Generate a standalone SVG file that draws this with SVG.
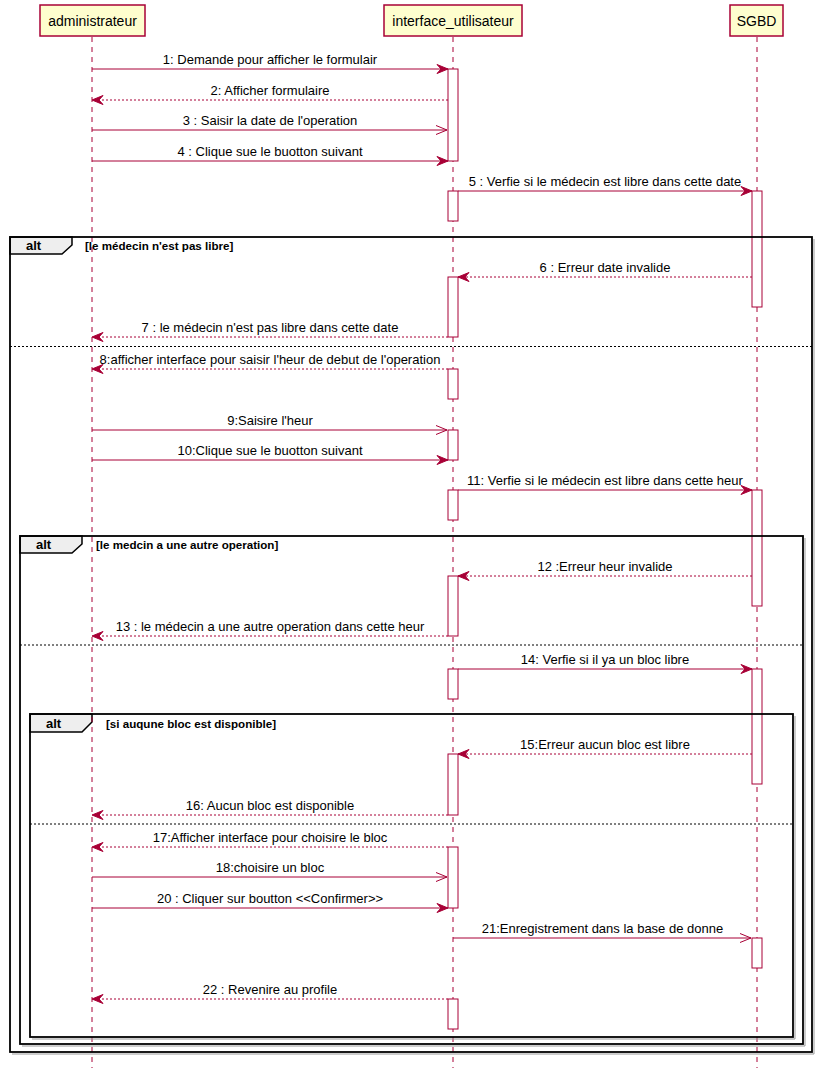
<svg xmlns="http://www.w3.org/2000/svg" width="819" height="1074" viewBox="0 0 819 1074">
<defs>
<style>
.pbox{fill:#FEFECE;stroke:#A80036;stroke-width:1.5}
.pname{font-family:"Liberation Sans",Arial,sans-serif;font-size:14px;fill:#000;text-anchor:middle}
.life{stroke:#A80036;stroke-width:1;stroke-dasharray:5,5}
.act{fill:#fff;stroke:#A80036;stroke-width:1}
.msg{stroke:#A80036;stroke-width:1;fill:none}
.ret{stroke:#A80036;stroke-width:1;fill:none;stroke-dasharray:2,2}
.full{marker-end:url(#filled)}
.open{marker-end:url(#openh)}
.lbl{font-family:"Liberation Sans",Arial,sans-serif;font-size:13px;fill:#000;text-anchor:middle}
.frame{fill:none;stroke:#000;stroke-width:1.8}
.fshadow{fill:none;stroke:#999;stroke-width:1}
.tab{fill:#EEEEEE;stroke:#000;stroke-width:1.5}
.alt{font-family:"Liberation Sans",Arial,sans-serif;font-size:13px;font-weight:bold;fill:#000}
.guard{font-family:"Liberation Sans",Arial,sans-serif;font-size:11.6px;font-weight:bold;fill:#000}
.sep{stroke:#000;stroke-width:1;stroke-dasharray:2,2}
</style>
<marker id="filled" markerUnits="userSpaceOnUse" viewBox="-11 -5 12 10" refX="0" refY="0" markerWidth="12" markerHeight="10" orient="auto" overflow="visible">
<path d="M0,0 L-11,-4.5 L-7,0 L-11,4.5 Z" fill="#A80036" stroke="#A80036" stroke-width="1"/>
</marker>
<marker id="openh" markerUnits="userSpaceOnUse" viewBox="-11 -5 12 10" refX="0" refY="0" markerWidth="12" markerHeight="10" orient="auto" overflow="visible">
<path d="M-11,-4.5 L0,0 L-11,4.5" fill="none" stroke="#A80036" stroke-width="1"/>
</marker>
</defs>
<rect width="819" height="1074" fill="#fff"/>

<g id="frames-bg">
<path class="tab" d="M10,237 H72 V245 L62,254 H10 Z"/>
<text class="alt" x="26" y="250">alt</text>
<text class="guard" x="85" y="250">[le médecin n'est pas libre]</text>
<path class="tab" d="M20,536 H82 V544 L72,553 H20 Z"/>
<text class="alt" x="36" y="549">alt</text>
<text class="guard" x="96" y="549">[le medcin a une autre operation]</text>
<path class="tab" d="M30,714 H92 V722 L82,732 H30 Z"/>
<text class="alt" x="46" y="728">alt</text>
<text class="guard" x="106" y="728">[si auqune bloc est disponible]</text>
</g>

<g id="administrateur">
<line class="life" x1="92" y1="37" x2="92" y2="1068"/>
<rect class="pbox" x="40" y="5" width="105" height="31"/>
<text class="pname" x="92.5" y="25.5">administrateur</text>
</g>

<g id="interface_utilisateur">
<line class="life" x1="453" y1="37" x2="453" y2="1068"/>
<rect class="pbox" x="384" y="5" width="138" height="31"/>
<text class="pname" x="453" y="25.5">interface_utilisateur</text>
<rect class="act" x="448" y="69" width="10" height="92"/>
<rect class="act" x="448" y="191" width="10" height="30"/>
<rect class="act" x="448" y="277" width="10" height="60"/>
<rect class="act" x="448" y="369" width="10" height="30"/>
<rect class="act" x="448" y="430" width="10" height="30"/>
<rect class="act" x="448" y="490" width="10" height="30"/>
<rect class="act" x="448" y="576" width="10" height="60"/>
<rect class="act" x="448" y="669" width="10" height="30"/>
<rect class="act" x="448" y="754" width="10" height="61"/>
<rect class="act" x="448" y="847" width="10" height="61"/>
<rect class="act" x="448" y="999" width="10" height="30"/>
</g>

<g id="SGBD">
<line class="life" x1="757" y1="37" x2="757" y2="1068"/>
<rect class="pbox" x="730" y="5" width="53" height="31"/>
<text class="pname" x="756.5" y="25.5">SGBD</text>
<rect class="act" x="752" y="191" width="10" height="116"/>
<rect class="act" x="752" y="490" width="10" height="116"/>
<rect class="act" x="752" y="669" width="10" height="115"/>
<rect class="act" x="752" y="938" width="10" height="30"/>
</g>

<g id="frames">
<path class="fshadow" d="M814,239 V1054 H12"/>
<rect class="frame" x="10" y="237" width="802" height="815"/>
<line class="sep" x1="10" y1="346.5" x2="812" y2="346.5"/>
<path class="fshadow" d="M805,538 V1046 H22"/>
<rect class="frame" x="20" y="536" width="783" height="508"/>
<line class="sep" x1="20" y1="645" x2="803" y2="645"/>
<path class="fshadow" d="M795,716 V1039 H32"/>
<rect class="frame" x="30" y="714" width="763" height="323"/>
<line class="sep" x1="30" y1="824" x2="793" y2="824"/>
</g>

<g id="connectors">
<line class="msg full" x1="92" y1="69" x2="448" y2="69"/>
<text class="lbl" x="270" y="64">1: Demande pour afficher le formulair</text>
<line class="ret full" x1="448" y1="100" x2="92" y2="100"/>
<text class="lbl" x="270" y="95">2: Afficher formulaire</text>
<line class="msg open" x1="92" y1="130" x2="447" y2="130"/>
<text class="lbl" x="270" y="125">3 : Saisir la date de l'operation</text>
<line class="msg full" x1="92" y1="161" x2="448" y2="161"/>
<text class="lbl" x="270" y="156">4 : Clique sue le buotton suivant</text>
<line class="msg full" x1="458" y1="191" x2="752" y2="191"/>
<text class="lbl" x="605" y="186">5 : Verfie si le médecin est libre dans cette date</text>
<line class="ret full" x1="752" y1="277" x2="458" y2="277"/>
<text class="lbl" x="605" y="272">6 : Erreur date invalide</text>
<line class="ret full" x1="448" y1="337" x2="92" y2="337"/>
<text class="lbl" x="270" y="332">7 : le médecin n'est pas libre dans cette date</text>
<line class="ret full" x1="448" y1="369" x2="92" y2="369"/>
<text class="lbl" x="270" y="364">8:afficher interface pour saisir l'heur de debut de l'operation</text>
<line class="msg open" x1="92" y1="430" x2="447" y2="430"/>
<text class="lbl" x="270" y="425">9:Saisire l'heur</text>
<line class="msg full" x1="92" y1="460" x2="448" y2="460"/>
<text class="lbl" x="270" y="455">10:Clique sue le buotton suivant</text>
<line class="msg full" x1="458" y1="490" x2="752" y2="490"/>
<text class="lbl" x="605" y="485">11: Verfie si le médecin est libre dans cette heur</text>
<line class="ret full" x1="752" y1="576" x2="458" y2="576"/>
<text class="lbl" x="605" y="571">12 :Erreur heur invalide</text>
<line class="ret full" x1="448" y1="636" x2="92" y2="636"/>
<text class="lbl" x="270" y="631">13 : le médecin a une autre operation dans cette heur</text>
<line class="msg full" x1="458" y1="669" x2="752" y2="669"/>
<text class="lbl" x="605" y="664">14: Verfie si il ya un bloc libre</text>
<line class="ret full" x1="752" y1="754" x2="458" y2="754"/>
<text class="lbl" x="605" y="749">15:Erreur aucun bloc est libre</text>
<line class="ret full" x1="448" y1="815" x2="92" y2="815"/>
<text class="lbl" x="270" y="810">16: Aucun bloc est disponible</text>
<line class="ret full" x1="448" y1="847" x2="92" y2="847"/>
<text class="lbl" x="270" y="842">17:Afficher interface pour choisire le bloc</text>
<line class="msg open" x1="92" y1="877" x2="447" y2="877"/>
<text class="lbl" x="270" y="872">18:choisire un bloc</text>
<line class="msg full" x1="92" y1="908" x2="448" y2="908"/>
<text class="lbl" x="270" y="903">20 : Cliquer sur boutton &lt;&lt;Confirmer&gt;&gt;</text>
<line class="msg open" x1="453" y1="938" x2="751" y2="938"/>
<text class="lbl" x="602.5" y="933">21:Enregistrement dans la base de donne</text>
<line class="ret full" x1="448" y1="999" x2="92" y2="999"/>
<text class="lbl" x="270" y="994">22 : Revenire au profile</text>
</g>
</svg>
